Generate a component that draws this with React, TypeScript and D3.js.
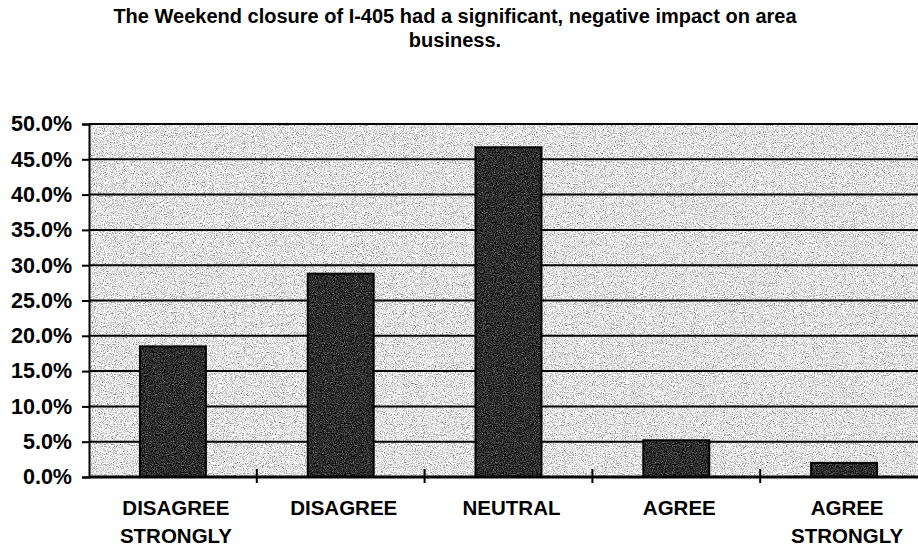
import React, { useEffect, useRef } from 'react';
import * as d3 from 'd3';

// survey answers, share of respondents
const categories = ['DISAGREE STRONGLY', 'DISAGREE', 'NEUTRAL', 'AGREE', 'AGREE STRONGLY'];
const values = [0.185, 0.288, 0.467, 0.052, 0.02];
const titleLines = [
  'The Weekend closure of I-405 had a significant, negative impact on area',
  'business.',
];

const App = () => {
  const ref = useRef<SVGSVGElement>(null);

  useEffect(() => {
    const width = 918;
    const height = 549;
    const left = 89;
    const right = 928; // plot runs past the right edge of the picture
    const top = 124;
    const bottom = 477;
    const font = "'Liberation Sans', Arial, sans-serif";

    const svg = d3.select(ref.current);
    svg.selectAll('*').remove();

    // speckled fill, like the scanned original
    const defs = svg.append('defs');
    const speckle = (id: string, slope: number, intercept: number) => {
      const f = defs.append('filter').attr('id', id)
        .attr('color-interpolation-filters', 'sRGB')
        .attr('x', 0).attr('y', 0).attr('width', 1).attr('height', 1);
      f.append('feTurbulence').attr('type', 'fractalNoise')
        .attr('baseFrequency', 0.9).attr('numOctaves', 2).attr('seed', 4).attr('result', 'n');
      f.append('feColorMatrix').attr('in', 'n').attr('type', 'matrix')
        .attr('values', '0.33 0.33 0.33 0 0  0.33 0.33 0.33 0 0  0.33 0.33 0.33 0 0  0 0 0 0 1')
        .attr('result', 'g');
      const ct = f.append('feComponentTransfer').attr('in', 'g').attr('result', 'c');
      ['feFuncR', 'feFuncG', 'feFuncB'].forEach(k =>
        ct.append(k).attr('type', 'linear').attr('slope', slope).attr('intercept', intercept));
      f.append('feComposite').attr('in', 'c').attr('in2', 'SourceGraphic').attr('operator', 'in');
    };
    speckle('bgSpeck', 2.0, -0.09);
    speckle('barSpeck', 1.4, -0.52);

    const x = d3.scaleBand().domain(categories).range([left, right]).paddingInner(0.607).paddingOuter(0.3035);
    const y = d3.scaleLinear().domain([0, 0.5]).range([bottom, top]);
    const step = x.step();

    // plot background
    svg.append('rect')
      .attr('x', left).attr('y', top)
      .attr('width', right - left).attr('height', bottom - top)
      .attr('fill', '#d6d6d6')
      .attr('filter', 'url(#bgSpeck)');

    // grid lines
    svg.append('g')
      .selectAll('line')
      .data(y.ticks(10).filter(d => d > 0))
      .enter()
      .append('line')
      .attr('x1', left).attr('x2', right)
      .attr('y1', d => y(d)).attr('y2', d => y(d))
      .attr('stroke', '#000')
      .attr('stroke-width', 2);

    // bars
    const bars = svg.append('g')
      .selectAll('g')
      .data(values)
      .enter()
      .append('g');
    bars.append('rect')
      .attr('x', (d, i) => x(categories[i])!)
      .attr('y', d => y(d))
      .attr('width', x.bandwidth())
      .attr('height', d => bottom - y(d))
      .attr('fill', '#2e2e2e')
      .attr('filter', 'url(#barSpeck)');
    bars.append('rect')
      .attr('x', (d, i) => x(categories[i])!)
      .attr('y', d => y(d))
      .attr('width', x.bandwidth())
      .attr('height', d => bottom - y(d))
      .attr('fill', 'none')
      .attr('stroke', '#000')
      .attr('stroke-width', 2);

    // y axis
    const yAxis = svg.append('g')
      .attr('transform', `translate(${left},0)`)
      .call(d3.axisLeft(y).ticks(10).tickFormat(d3.format('.1%')).tickSize(7).tickPadding(10));
    yAxis.select('.domain').attr('stroke', '#000').attr('stroke-width', 2);
    yAxis.selectAll('.tick line').attr('stroke', '#000').attr('stroke-width', 2);
    yAxis.selectAll('.tick text')
      .attr('font-family', font)
      .attr('font-weight', 'bold')
      .attr('font-size', 21.5)
      .attr('fill', '#000');

    // x axis line and ticks between categories
    svg.append('line')
      .attr('x1', left).attr('x2', right)
      .attr('y1', bottom).attr('y2', bottom)
      .attr('stroke', '#000').attr('stroke-width', 3);
    svg.append('g')
      .selectAll('line')
      .data(categories.slice(1))
      .enter()
      .append('line')
      .attr('x1', d => x(d)! - step * 0.3035)
      .attr('x2', d => x(d)! - step * 0.3035)
      .attr('y1', bottom - 8).attr('y2', bottom + 6)
      .attr('stroke', '#000').attr('stroke-width', 2);

    // category labels
    const labels = svg.append('g')
      .selectAll('text')
      .data(categories)
      .enter()
      .append('text')
      .attr('text-anchor', 'middle')
      .attr('font-family', font)
      .attr('font-weight', 'bold')
      .attr('font-size', 20.5)
      .attr('fill', '#000');
    labels.selectAll('tspan')
      .data(d => d.split(' ').map(w => ({ w, c: d })))
      .enter()
      .append('tspan')
      .attr('x', d => x(d.c)! + x.bandwidth() / 2 + 3)
      .attr('y', (d, i) => 515 + i * 28)
      .text(d => d.w);

    // title
    svg.append('g')
      .selectAll('text')
      .data(titleLines)
      .enter()
      .append('text')
      .attr('x', 455)
      .attr('y', (d, i) => 23 + i * 24)
      .attr('text-anchor', 'middle')
      .attr('font-family', font)
      .attr('font-weight', 'bold')
      .attr('font-size', 20)
      .attr('fill', '#000')
      .text(d => d);

    svg.attr('width', width).attr('height', height);
  }, []);

  return (
    <svg ref={ref} width={918} height={549}
      style={{ position: 'absolute', left: 0, top: 0, background: '#fff' }} />
  );
};

export default App;
